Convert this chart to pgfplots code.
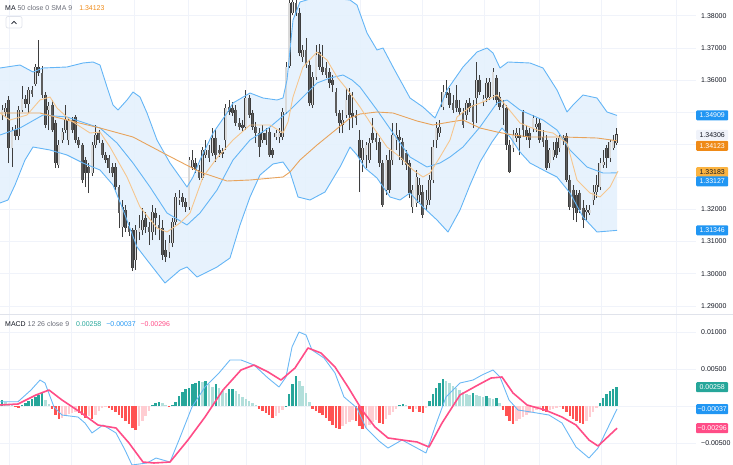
\documentclass[border=0pt]{standalone}
\usepackage{fontspec}
\setmainfont{Liberation Sans}
\usepackage{pgfplots}
\usepackage{pgfplotstable}
\pgfplotsset{compat=1.18}

\definecolor{gridc}{HTML}{F0F3FA}
\definecolor{sepc}{HTML}{E0E3EB}
\definecolor{bbline}{HTML}{64B5F6}
\definecolor{bbfill}{HTML}{E4F1FD}
\definecolor{ma50}{HTML}{E8A35C}
\definecolor{sma9}{HTML}{F6C68E}
\definecolor{upfill}{HTML}{DADADA}
\definecolor{dnfill}{HTML}{5E5E5E}
\definecolor{edge}{HTML}{3E3E3E}
\definecolor{txt}{HTML}{131722}
\definecolor{txtgray}{HTML}{6A6D78}
\definecolor{tagblue}{HTML}{2196F3}
\definecolor{macdblue}{HTML}{6BB8F5}
\definecolor{tagorange}{HTML}{EF8A17}
\definecolor{tagyellow}{HTML}{FBB340}
\definecolor{taggray}{HTML}{F0F3FA}
\definecolor{sigpink}{HTML}{FF4D87}
\definecolor{hgreen}{HTML}{26A69A}
\definecolor{hlgreen}{HTML}{B2DFDB}
\definecolor{hred}{HTML}{FF5252}
\definecolor{hpink}{HTML}{FFCDD2}
\newcommand{\sz}{\fontsize{7}{8.4}\selectfont}

% up candles: i open high low close
\pgfplotstableread{
i o h l c
0 1.34922 1.35232 1.34767 1.35077
1 1.35015 1.35294 1.34860 1.35139
3 1.33899 1.34550 1.33310 1.34457
5 1.34271 1.35201 1.34147 1.35077
6 1.35077 1.35821 1.35015 1.35418
8 1.35263 1.35790 1.34984 1.35697
10 1.35883 1.36503 1.35821 1.36410
14 1.35077 1.35325 1.34457 1.35201
17 1.33372 1.34147 1.33279 1.33992
18 1.34147 1.34519 1.34054 1.34395
19 1.34457 1.35232 1.34364 1.34767
20 1.34147 1.34829 1.33992 1.34736
27 1.33124 1.34085 1.33031 1.33992
28 1.33992 1.34612 1.33899 1.34302
36 1.31450 1.32287 1.31140 1.32070
40 1.30427 1.31512 1.30117 1.31357
41 1.31295 1.31822 1.31047 1.31419
42 1.31357 1.32039 1.31202 1.31667
45 1.31295 1.32132 1.31047 1.31915
50 1.30675 1.31202 1.30489 1.30954
51 1.30954 1.31729 1.30830 1.31605
52 1.31605 1.32504 1.31512 1.32380
53 1.32287 1.32597 1.32132 1.32349
56 1.32070 1.33620 1.31977 1.33527
57 1.33310 1.33837 1.33217 1.33527
60 1.32969 1.33930 1.32907 1.33837
61 1.33682 1.34147 1.33589 1.33837
63 1.33744 1.34519 1.33651 1.34209
67 1.34147 1.35263 1.33837 1.35139
73 1.34550 1.35697 1.34457 1.35449
78 1.34147 1.34612 1.34054 1.34364
82 1.34240 1.34457 1.34147 1.34364
83 1.34240 1.34519 1.34054 1.34364
84 1.34240 1.35139 1.34147 1.35015
85 1.35015 1.36565 1.34953 1.36410
86 1.36441 1.38642 1.36379 1.38394
87 1.38084 1.38642 1.38022 1.38425
90 1.36720 1.37092 1.36565 1.36937
93 1.35232 1.36255 1.35139 1.36100
94 1.36100 1.37092 1.36007 1.36782
102 1.34612 1.35077 1.34364 1.34767
103 1.34922 1.35759 1.34829 1.35387
108 1.33527 1.34147 1.33155 1.33899
109 1.33682 1.34085 1.33279 1.33992
110 1.33527 1.34209 1.33434 1.34054
115 1.32597 1.33682 1.32442 1.33527
117 1.33527 1.34674 1.33372 1.34302
118 1.34147 1.34674 1.33837 1.34302
123 1.32070 1.32752 1.31884 1.32597
124 1.32194 1.33217 1.32070 1.33000
125 1.32442 1.32969 1.32225 1.32752
127 1.32132 1.32597 1.31977 1.32287
128 1.32287 1.33062 1.32132 1.32907
129 1.32907 1.34147 1.32814 1.33930
130 1.34147 1.34705 1.33899 1.34519
131 1.34364 1.34767 1.34240 1.34550
132 1.35170 1.35852 1.35077 1.35635
139 1.34922 1.35387 1.34767 1.35294
142 1.35449 1.36565 1.34674 1.36007
144 1.35325 1.35542 1.35201 1.35418
145 1.35449 1.36069 1.35325 1.35914
146 1.35480 1.36069 1.35387 1.35945
147 1.35542 1.36379 1.35387 1.36255
153 1.33899 1.34457 1.33775 1.34302
154 1.34209 1.34519 1.34085 1.34364
159 1.34519 1.34922 1.34395 1.34829
160 1.34550 1.34829 1.34395 1.34643
164 1.33434 1.33899 1.33279 1.33837
165 1.33620 1.34085 1.33527 1.33837
167 1.33899 1.34302 1.33775 1.34209
168 1.34116 1.34302 1.33992 1.34209
175 1.31915 1.32132 1.31667 1.31977
176 1.31884 1.32132 1.31822 1.31977
177 1.32287 1.32752 1.32132 1.32535
178 1.32535 1.33062 1.32349 1.32752
179 1.32690 1.33589 1.32597 1.33434
180 1.33372 1.33837 1.33279 1.33465
182 1.33589 1.34147 1.33465 1.34085
183 1.33899 1.34302 1.33837 1.34147
184 1.34054 1.34519 1.33992 1.34306
}\upc

% down candles
\pgfplotstableread{
i o h l c
2 1.35387 1.35511 1.33434 1.33899
4 1.34457 1.34612 1.34147 1.34271
7 1.35418 1.35542 1.35139 1.35263
9 1.35697 1.35821 1.35480 1.35573
11 1.36410 1.37247 1.36131 1.36224
12 1.36224 1.36441 1.35449 1.35542
13 1.35542 1.35635 1.34519 1.34612
15 1.35232 1.35387 1.34395 1.34457
16 1.34674 1.34767 1.33279 1.33434
21 1.34767 1.34860 1.34364 1.34457
22 1.34860 1.34922 1.34054 1.34147
23 1.34147 1.34240 1.33899 1.33992
24 1.33992 1.34054 1.32814 1.32907
25 1.33527 1.33620 1.32690 1.33124
26 1.33310 1.33434 1.32504 1.33124
29 1.34364 1.34457 1.34054 1.34147
30 1.34054 1.34147 1.33589 1.33682
31 1.33682 1.33775 1.33434 1.33527
32 1.33589 1.33682 1.33124 1.33279
33 1.33310 1.33434 1.33000 1.33124
34 1.33310 1.33434 1.32597 1.32690
35 1.32690 1.32752 1.31419 1.31884
37 1.31977 1.32132 1.31295 1.31419
38 1.31481 1.31605 1.31171 1.31295
39 1.31357 1.31419 1.30086 1.30179
43 1.31729 1.31915 1.31264 1.31450
44 1.31450 1.31605 1.30892 1.31295
46 1.31884 1.32039 1.31202 1.31729
47 1.31512 1.31822 1.31047 1.31419
48 1.31419 1.31667 1.30427 1.30582
49 1.30737 1.31047 1.30365 1.30520
54 1.32380 1.32504 1.32070 1.32225
55 1.32225 1.32349 1.31915 1.32070
58 1.33434 1.33589 1.33124 1.33217
59 1.33217 1.33372 1.32907 1.32969
62 1.33837 1.33992 1.33465 1.33589
64 1.34209 1.34457 1.33465 1.33682
65 1.33837 1.33992 1.33620 1.33744
66 1.33775 1.33899 1.33589 1.33713
68 1.35170 1.35387 1.34922 1.35015
69 1.35139 1.35325 1.34891 1.34984
70 1.35077 1.35232 1.34581 1.34674
71 1.34674 1.34829 1.34457 1.34550
72 1.34612 1.34767 1.34426 1.34519
74 1.35449 1.35542 1.34829 1.34922
75 1.34984 1.35077 1.34457 1.34550
76 1.34550 1.34705 1.34054 1.34364
77 1.34364 1.34519 1.33620 1.33930
79 1.34364 1.34519 1.33992 1.34147
80 1.34395 1.34519 1.33620 1.33682
81 1.33837 1.33899 1.33589 1.33682
88 1.38394 1.38735 1.37991 1.38084
89 1.38084 1.38239 1.36751 1.36844
91 1.36937 1.37309 1.36379 1.36472
92 1.36472 1.36627 1.35201 1.35294
95 1.36875 1.37123 1.36317 1.36410
96 1.36410 1.37092 1.36162 1.36255
97 1.36379 1.36565 1.36069 1.36162
98 1.36255 1.36379 1.35759 1.35914
99 1.36007 1.36162 1.35635 1.35852
100 1.35635 1.35759 1.34891 1.34984
101 1.34984 1.35077 1.34364 1.34674
104 1.35542 1.35759 1.34457 1.34922
105 1.34984 1.35635 1.34519 1.34860
106 1.34922 1.35077 1.34612 1.34829
107 1.34147 1.34457 1.32535 1.33589
111 1.34364 1.34829 1.34054 1.34147
112 1.34209 1.34364 1.33837 1.34085
113 1.34085 1.34209 1.33310 1.33434
114 1.33434 1.33527 1.32070 1.32132
116 1.33527 1.33837 1.32504 1.32597
119 1.34240 1.34457 1.33527 1.34147
120 1.34085 1.34209 1.33372 1.33527
121 1.33744 1.33837 1.33217 1.33372
122 1.33434 1.33527 1.32349 1.32504
126 1.32535 1.32752 1.31729 1.31822
133 1.35635 1.36007 1.35449 1.35542
134 1.35604 1.35759 1.35139 1.35232
135 1.35294 1.35542 1.34984 1.35077
136 1.35387 1.35852 1.35015 1.35139
137 1.35139 1.35387 1.34922 1.35015
138 1.35015 1.35139 1.34519 1.34612
140 1.35294 1.35449 1.35015 1.35139
141 1.35232 1.35387 1.34519 1.34705
143 1.36007 1.36162 1.35542 1.35635
148 1.36069 1.36162 1.35232 1.35387
149 1.35480 1.35635 1.35077 1.35170
150 1.35232 1.35387 1.34612 1.35139
151 1.35139 1.35232 1.33837 1.33992
152 1.33992 1.34147 1.33124 1.33155
155 1.34302 1.34519 1.33682 1.34209
156 1.35015 1.35077 1.34240 1.34457
157 1.34457 1.34612 1.34147 1.34240
158 1.34364 1.34519 1.33899 1.34147
161 1.34674 1.34829 1.34054 1.34147
162 1.34240 1.34457 1.33930 1.34085
163 1.34147 1.34302 1.33217 1.33279
166 1.34085 1.34209 1.33589 1.33682
169 1.34271 1.34364 1.32845 1.32907
170 1.32907 1.33062 1.31977 1.32070
171 1.32597 1.32752 1.31667 1.32039
172 1.32442 1.32597 1.31605 1.31884
173 1.32504 1.32597 1.31884 1.31977
174 1.32039 1.32287 1.31419 1.31667
181 1.33899 1.33992 1.33279 1.33589
}\dnc

\pgfplotstableread{
x y
0 1.36379
20 1.36472
33 1.36255
43 1.36379
67 1.36410
83 1.36534
93 1.36565
100 1.36472
107 1.35790
113 1.35232
118 1.35077
127 1.35387
133 1.35635
140 1.35480
147 1.34984
157 1.34147
170 1.33434
180 1.33000
187 1.32690
193 1.33000
200 1.33527
213 1.34364
227 1.34984
233 1.35294
250 1.35604
263 1.35449
277 1.35387
283 1.35449
287 1.36007
290 1.36937
293 1.37867
300 1.38425
310 1.38518
330 1.38549
350 1.38487
357 1.38332
367 1.37464
377 1.36937
383 1.36999
393 1.36410
410 1.35449
423 1.35170
435 1.34829
440 1.35170
447 1.35697
463 1.36410
477 1.36875
487 1.36999
493 1.36844
500 1.36379
508 1.36565
530 1.36534
543 1.36379
557 1.35697
567 1.35015
573 1.35232
583 1.35542
597 1.35449
607 1.35015
617 1.34909
}\bbup

\pgfplotstableread{
x y
0 1.32194
8 1.32287
15 1.32752
25 1.33527
33 1.33930
50 1.33837
67 1.33682
83 1.33434
100 1.33217
113 1.32752
122 1.32070
137 1.30830
147 1.30427
165 1.29714
180 1.30117
187 1.30210
197 1.29900
217 1.30210
230 1.30489
240 1.31512
250 1.32380
260 1.33062
273 1.33403
283 1.33465
290 1.33155
298 1.32380
310 1.32287
325 1.32535
340 1.33310
350 1.33930
357 1.33682
365 1.33279
377 1.32969
390 1.32380
400 1.32287
410 1.32504
423 1.32070
437 1.31667
448 1.31295
460 1.31977
470 1.32752
480 1.33465
492 1.34085
502 1.34519
510 1.34240
520 1.33775
530 1.33434
547 1.33155
557 1.33000
570 1.32504
583 1.31760
597 1.31295
617 1.31346
}\bblo

% band outline: upper band left to right, then lower band right to left
\pgfplotstableread{
x y
0 1.36379
20 1.36472
33 1.36255
43 1.36379
67 1.36410
83 1.36534
93 1.36565
100 1.36472
107 1.35790
113 1.35232
118 1.35077
127 1.35387
133 1.35635
140 1.35480
147 1.34984
157 1.34147
170 1.33434
180 1.33000
187 1.32690
193 1.33000
200 1.33527
213 1.34364
227 1.34984
233 1.35294
250 1.35604
263 1.35449
277 1.35387
283 1.35449
287 1.36007
290 1.36937
293 1.37867
300 1.38425
310 1.38518
330 1.38549
350 1.38487
357 1.38332
367 1.37464
377 1.36937
383 1.36999
393 1.36410
410 1.35449
423 1.35170
435 1.34829
440 1.35170
447 1.35697
463 1.36410
477 1.36875
487 1.36999
493 1.36844
500 1.36379
508 1.36565
530 1.36534
543 1.36379
557 1.35697
567 1.35015
573 1.35232
583 1.35542
597 1.35449
607 1.35015
617 1.34909
617 1.31346
597 1.31295
583 1.31760
570 1.32504
557 1.33000
547 1.33155
530 1.33434
520 1.33775
510 1.34240
502 1.34519
492 1.34085
480 1.33465
470 1.32752
460 1.31977
448 1.31295
437 1.31667
423 1.32070
410 1.32504
400 1.32287
390 1.32380
377 1.32969
365 1.33279
357 1.33682
350 1.33930
340 1.33310
325 1.32535
310 1.32287
298 1.32380
290 1.33155
283 1.33465
273 1.33403
260 1.33062
250 1.32380
240 1.31512
230 1.30489
217 1.30210
197 1.29900
187 1.30210
180 1.30117
165 1.29714
147 1.30427
137 1.30830
122 1.32070
113 1.32752
100 1.33217
83 1.33434
67 1.33682
50 1.33837
33 1.33930
25 1.33527
15 1.32752
8 1.32287
0 1.32194
}\bbpoly

\pgfplotstableread{
x y
0 1.34302
20 1.34519
43 1.34922
67 1.34860
100 1.34519
117 1.34054
133 1.33434
150 1.32690
167 1.31884
187 1.31512
200 1.31884
217 1.32597
233 1.33527
250 1.34147
270 1.34550
290 1.35077
305 1.35542
317 1.35914
330 1.36069
343 1.36162
352 1.36007
360 1.35790
377 1.35077
393 1.34364
410 1.33620
427 1.33310
440 1.33434
450 1.33620
463 1.33930
480 1.34550
497 1.35294
507 1.35387
520 1.35077
543 1.34767
557 1.34457
570 1.33837
587 1.33310
603 1.33124
617 1.33127
}\bbmid

\pgfplotstableread{
x y
0 1.34984
40 1.34984
67 1.34767
100 1.34519
133 1.34240
167 1.33682
200 1.33155
227 1.32876
250 1.32907
283 1.33000
290 1.33155
300 1.33527
317 1.33992
333 1.34395
350 1.34829
360 1.34953
377 1.35015
393 1.34984
417 1.34736
433 1.34612
450 1.34705
463 1.34767
480 1.34519
497 1.34395
513 1.34302
530 1.34240
563 1.34240
597 1.34209
617 1.34123
}\maL

\pgfplotstableread{
x y
0 1.34984
10 1.34767
27 1.34922
40 1.35387
50 1.35480
57 1.35139
70 1.34767
90 1.34364
100 1.34395
110 1.33930
127 1.33000
140 1.32070
157 1.31419
167 1.31295
180 1.31574
190 1.31884
203 1.33000
217 1.33589
233 1.34147
250 1.34612
270 1.34612
283 1.34364
288 1.34705
293 1.35480
303 1.36410
317 1.36875
327 1.36627
337 1.36100
350 1.35604
360 1.35170
373 1.34550
387 1.33930
400 1.33620
413 1.33217
423 1.33000
430 1.33124
440 1.33620
450 1.34147
457 1.34860
470 1.35170
483 1.35325
497 1.35542
507 1.35170
520 1.34674
537 1.34457
553 1.34364
567 1.34054
577 1.32907
590 1.32504
600 1.32380
610 1.32690
618 1.33183
}\smaS

\pgfplotstableread{
x y
0 0.00062
18 0.00062
31 0.00220
40 0.00355
45 0.00315
54 -0.00009
62 -0.00118
78 -0.00145
85 -0.00226
92 -0.00360
103 -0.00253
116 -0.00360
125 -0.00591
132 -0.00793
147 -0.00766
156 -0.00699
170 -0.00753
179 -0.00455
192 -0.00009
205 0.00261
219 0.00450
230 0.00626
241 0.00626
254 0.00558
268 0.00382
279 0.00261
286 0.00396
292 0.00801
299 0.01004
306 0.00964
312 0.00761
324 0.00653
335 0.00450
344 0.00126
357 -0.00023
366 -0.00293
379 -0.00469
388 -0.00564
402 -0.00455
415 -0.00550
426 -0.00631
435 -0.00280
446 0.00126
460 0.00315
473 0.00355
482 0.00423
493 0.00491
500 0.00396
509 0.00085
518 -0.00050
531 -0.00077
549 -0.00118
562 -0.00226
576 -0.00550
589 -0.00699
598 -0.00564
617 -0.00037
}\macdL

\pgfplotstableread{
x y
0 0.00018
18 0.00031
36 0.00153
49 0.00220
62 0.00085
80 -0.00077
98 -0.00253
116 -0.00293
129 -0.00496
143 -0.00753
154 -0.00766
170 -0.00753
188 -0.00455
205 -0.00145
223 0.00220
241 0.00491
254 0.00558
268 0.00464
281 0.00355
295 0.00518
308 0.00788
321 0.00720
335 0.00531
348 0.00261
362 -0.00050
375 -0.00280
388 -0.00428
402 -0.00455
417 -0.00482
429 -0.00550
442 -0.00226
460 0.00153
478 0.00288
491 0.00382
502 0.00396
513 0.00180
527 0.00018
545 -0.00050
562 -0.00145
576 -0.00253
589 -0.00455
598 -0.00537
617 -0.00296
}\sigL

\pgfplotstableread{
i v
0 0.00081
6 0.00014
7 0.00041
8 0.00068
9 0.00095
10 0.00122
11 0.00149
12 0.00176
45 0.00014
46 0.00041
47 0.00054
51 0.00014
52 0.00054
53 0.00135
54 0.00189
55 0.00230
56 0.00243
57 0.00297
58 0.00311
59 0.00338
61 0.00338
64 0.00297
68 0.00230
69 0.00236
85 0.00007
86 0.00162
87 0.00297
88 0.00405
119 0.00014
120 0.00027
128 0.00068
129 0.00162
130 0.00243
131 0.00311
132 0.00365
141 0.00176
145 0.00135
148 0.00108
179 0.00041
180 0.00108
181 0.00162
182 0.00203
183 0.00230
184 0.00258
}\hG

\pgfplotstableread{
i v
1 0.00054
2 0.00027
3 0.00014
13 0.00081
14 0.00027
48 0.00041
49 0.00014
60 0.00324
62 0.00297
63 0.00257
65 0.00243
66 0.00203
67 0.00176
70 0.00203
71 0.00162
72 0.00122
73 0.00095
74 0.00068
75 0.00041
76 0.00014
89 0.00338
90 0.00270
91 0.00176
92 0.00054
121 0.00014
133 0.00338
134 0.00311
135 0.00270
136 0.00243
137 0.00216
138 0.00189
139 0.00162
140 0.00149
142 0.00149
143 0.00135
144 0.00122
146 0.00108
147 0.00101
149 0.00041
}\hL

\pgfplotstableread{
i v
4 -0.00014
5 -0.00027
15 -0.00041
16 -0.00122
17 -0.00176
23 -0.00095
24 -0.00122
25 -0.00162
27 -0.00176
32 -0.00027
33 -0.00054
34 -0.00081
35 -0.00122
36 -0.00162
37 -0.00203
38 -0.00243
39 -0.00297
40 -0.00324
50 -0.00014
77 -0.00041
78 -0.00068
79 -0.00095
80 -0.00122
81 -0.00162
93 -0.00041
94 -0.00068
95 -0.00095
96 -0.00122
97 -0.00162
98 -0.00203
99 -0.00257
100 -0.00297
101 -0.00311
106 -0.00203
107 -0.00270
108 -0.00311
113 -0.00230
114 -0.00243
122 -0.00041
123 -0.00081
125 -0.00081
126 -0.00095
150 -0.00054
151 -0.00135
152 -0.00203
153 -0.00243
162 -0.00068
163 -0.00081
168 -0.00041
169 -0.00081
170 -0.00135
171 -0.00176
172 -0.00203
173 -0.00230
174 -0.00243
}\hR

\pgfplotstableread{
i v
18 -0.00162
19 -0.00122
20 -0.00108
21 -0.00095
22 -0.00081
26 -0.00135
28 -0.00122
29 -0.00068
30 -0.00027
31 -0.00014
41 -0.00270
42 -0.00203
43 -0.00135
44 -0.00068
82 -0.00135
83 -0.00095
84 -0.00054
102 -0.00270
103 -0.00243
104 -0.00216
105 -0.00189
109 -0.00297
110 -0.00257
111 -0.00216
112 -0.00189
115 -0.00176
116 -0.00122
117 -0.00081
118 -0.00041
124 -0.00041
127 -0.00027
154 -0.00203
155 -0.00176
156 -0.00149
157 -0.00122
158 -0.00095
159 -0.00081
160 -0.00054
161 -0.00041
164 -0.00054
165 -0.00041
166 -0.00027
167 -0.00014
175 -0.00203
176 -0.00149
177 -0.00081
178 -0.00027
}\hP

\pgfplotsset{
  pane/.style={
    scale only axis, width=696bp, xmin=0, xmax=696,
    axis line style={draw=none}, major tick length=0pt,
    xtick={9,71,134,188,246,305,360,422,484,539,601,676}, xticklabels={},
    xmajorgrids, ymajorgrids,
    grid style={gridc, line width=0.8bp},
    yticklabel pos=right,
    yticklabel style={anchor=west, inner sep=0pt, xshift=5bp, font=\sz, text=txt},
    scaled y ticks=false,
  },
}
\tikzset{
  tagnode/.style={anchor=west, inner sep=0pt, minimum width=32bp, minimum height=10bp, font=\sz, rounded corners=1bp},
}

\begin{document}
\begin{tikzpicture}
\path[use as bounding box] (0,0) rectangle (733bp,-465bp);

\begin{axis}[pane, at={(0,0)}, anchor=north west, height=314bp,
  ymin=1.28753, ymax=1.38487,
  ytick={1.29,1.30,1.31,1.32,1.33,1.34,1.35,1.36,1.37,1.38},
  yticklabels={1.29000,1.30000,1.31000,1.32000,{},{},{},1.36000,1.37000,1.38000}]
  % Bollinger band fill
  \addplot[fill=bbfill, draw=none, fill opacity=0.9] table[x=x,y=y] {\bbpoly};
  % wicks
  \addplot[edge, line width=0.7bp, quiver={u=0, v=\thisrow{h}-\thisrow{l}}]
    table[x expr={2+3.34*\thisrow{i}}, y=l] {\upc};
  \addplot[edge, line width=0.7bp, quiver={u=0, v=\thisrow{h}-\thisrow{l}}]
    table[x expr={2+3.34*\thisrow{i}}, y=l] {\dnc};
  % bodies
  \addplot[edge, line width=2.8bp, quiver={u=0, v=\thisrow{c}-\thisrow{o}+0.00024}]
    table[x expr={2+3.34*\thisrow{i}}, y expr={\thisrow{o}-0.00012}] {\upc};
  \addplot[upfill, line width=1.5bp, quiver={u=0, v=\thisrow{c}-\thisrow{o}-0.00024}]
    table[x expr={2+3.34*\thisrow{i}}, y expr={\thisrow{o}+0.00012}] {\upc};
  \addplot[edge, line width=2.8bp, quiver={u=0, v=\thisrow{c}-\thisrow{o}-0.00024}]
    table[x expr={2+3.34*\thisrow{i}}, y expr={\thisrow{o}+0.00012}] {\dnc};
  \addplot[dnfill, line width=1.5bp, quiver={u=0, v=\thisrow{c}-\thisrow{o}+0.00024}]
    table[x expr={2+3.34*\thisrow{i}}, y expr={\thisrow{o}-0.00012}] {\dnc};
  % indicator lines
  \addplot[bbline, line width=0.9bp, line join=round] table[x=x,y=y] {\bbup};
  \addplot[bbline, line width=0.9bp, line join=round] table[x=x,y=y] {\bblo};
  \addplot[bbline, line width=0.9bp, line join=round] table[x=x,y=y] {\bbmid};
  \addplot[ma50, line width=0.9bp, line join=round] table[x=x,y=y] {\maL};
  \addplot[sma9, line width=0.9bp, line join=round] table[x=x,y=y] {\smaS};
  \coordinate (tU) at (axis cs:696,1.34909);
  \coordinate (tP) at (axis cs:696,1.34306);
  \coordinate (tM) at (axis cs:696,1.34123);
  \coordinate (tS) at (axis cs:696,1.33183);
  \coordinate (tB) at (axis cs:696,1.33127);
  \coordinate (tL) at (axis cs:696,1.31346);
\end{axis}

\begin{axis}[pane, at={(0,-315bp)}, anchor=north west, height=150bp,
  ymin=-0.007932, ymax=0.012338,
  ytick={-0.005,0,0.005,0.01},
  yticklabels={−0.00500,{},0.00500,0.01000}]
  \addplot[hgreen, line width=2.5bp, quiver={u=0, v=\thisrow{v}}] table[x expr={2+3.34*\thisrow{i}}, y expr=0] {\hG};
  \addplot[hlgreen, line width=2.5bp, quiver={u=0, v=\thisrow{v}}] table[x expr={2+3.34*\thisrow{i}}, y expr=0] {\hL};
  \addplot[hred, line width=2.5bp, quiver={u=0, v=\thisrow{v}}] table[x expr={2+3.34*\thisrow{i}}, y expr=0] {\hR};
  \addplot[hpink, line width=2.5bp, quiver={u=0, v=\thisrow{v}}] table[x expr={2+3.34*\thisrow{i}}, y expr=0] {\hP};
  \addplot[macdblue, line width=0.9bp, line join=round] table[x=x,y=y] {\macdL};
  \addplot[sigpink, line width=1.6bp, line join=round] table[x=x,y=y] {\sigL};
  \coordinate (mH) at (axis cs:696,0.00258);
  \coordinate (mM) at (axis cs:696,-0.00037);
  \coordinate (mS) at (axis cs:696,-0.00296);
\end{axis}

% pane separator
\draw[sepc, line width=0.8bp] (0,-314.5bp) -- (733bp,-314.5bp);

% price tags
\node[tagnode, fill=tagblue, text=white] at (tU) {1.34909};
\node[tagnode, fill=taggray, text=txt] at (tP) {1.34306};
\node[tagnode, fill=tagorange, text=white] at ([yshift=-5bp]tM) {1.34123};
\node[tagnode, fill=tagyellow, text=txt] at ([yshift=-1bp]tS) {1.33183};
\node[tagnode, fill=tagblue, text=white] at ([yshift=-8.5bp]tB) {1.33127};
\node[tagnode, fill=tagblue, text=white] at (tL) {1.31346};
\node[tagnode, fill=hgreen, text=white] at (mH) {0.00258};
\node[tagnode, fill=tagblue, text=white] at (mM) {−0.00037};
\node[tagnode, fill=sigpink, text=white] at (mS) {−0.00296};

% legends
\node[anchor=base west, inner sep=0pt, font=\sz] at (5bp,-10.5bp)
  {\textcolor{txt}{MA}\ \textcolor{txtgray}{50 close 0 SMA 9}\hspace{7bp}\textcolor{tagorange}{1.34123}};
\draw[sepc, rounded corners=2bp, line width=0.7bp] (6bp,-16.5bp) rectangle (22bp,-28bp);
\draw[txt, line width=0.7bp] (11.5bp,-23.8bp) -- (14bp,-21.3bp) -- (16.5bp,-23.8bp);
\node[anchor=base west, inner sep=0pt, font=\sz] at (5bp,-326.5bp)
  {\textcolor{txt}{MACD}\ \textcolor{txtgray}{12 26 close 9}\hspace{7bp}\textcolor{hgreen}{0.00258}\hspace{5bp}\textcolor{tagblue}{−0.00037}\hspace{5bp}\textcolor{sigpink}{−0.00296}};
\end{tikzpicture}
\end{document}
